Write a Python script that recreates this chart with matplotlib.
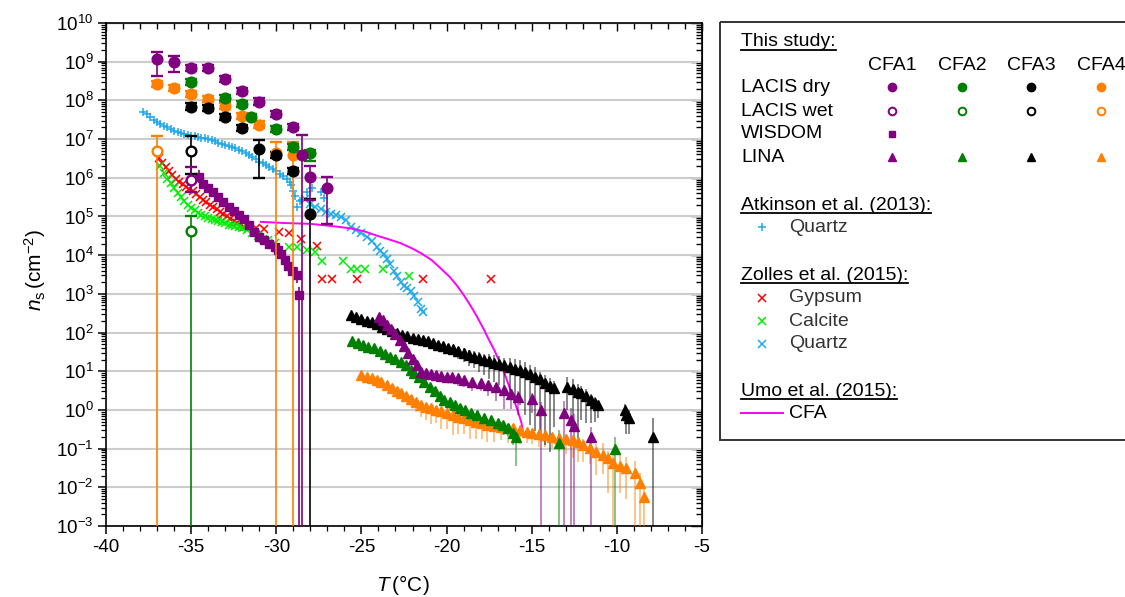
import numpy as np
import matplotlib
matplotlib.use("Agg")
import matplotlib.pyplot as plt
from matplotlib.ticker import MultipleLocator, LogLocator, NullFormatter
from matplotlib.patches import Rectangle

plt.rcParams['font.family'] = ['Liberation Sans', 'DejaVu Sans']
plt.rcParams['mathtext.fontset'] = 'custom'
plt.rcParams['mathtext.rm'] = 'Liberation Sans'
plt.rcParams['mathtext.it'] = 'Liberation Sans:italic'
plt.rcParams['axes.unicode_minus'] = False

PUR, GRN, BLK, ORG = "#800080", "#008000", "#000000", "#ff8000"
RED, LIME, SKY, MAG = "#ff0000", "#00ee00", "#1ea9ea", "#ff00ff"

# ---- LACIS dry (filled circles): T, log10 ns, err down / up (dex); 9 = to bottom
DRY1_T = [-37, -36, -35, -34, -33, -32, -31, -30, -29, -28.5, -28, -27]
DRY1_LG = [9.06, 9.00, 8.83, 8.83, 8.55, 8.25, 7.97, 7.65, 7.32, 6.59, 6.03, 5.74]
DRY1_LO = [0.43, 0.27, 0.08, 0.08, 0.08, 0.08, 0.08, 0.08, 0.08, 9, 0.60, 0.94]
DRY1_HI = [0.20, 0.15, 0.08, 0.08, 0.08, 0.08, 0.08, 0.08, 0.08, 0.51, 0.27, 0.29]
DRY2_T = [-35, -33, -32, -31.5, -30, -29, -28]
DRY2_LG = [8.48, 8.07, 7.90, 7.58, 7.25, 6.80, 6.63]
DRY2_LO = [0.08, 0.08, 0.08, 0.08, 0.08, 0.08, 0.20]
DRY2_HI = [0.08, 0.08, 0.08, 0.08, 0.08, 0.08, 0.08]
DRY3_T = [-35, -34, -33, -32, -31, -30, -29, -28]
DRY3_LG = [7.84, 7.80, 7.58, 7.28, 6.74, 6.59, 6.18, 5.06]
DRY3_LO = [0.08, 0.08, 0.08, 0.08, 0.75, 0.08, 0.08, 9]
DRY3_HI = [0.08, 0.08, 0.08, 0.08, 0.24, 0.08, 0.08, 0.40]
DRY4_T = [-37, -36, -35, -34, -33, -32, -31, -30, -29]
DRY4_LG = [8.42, 8.33, 8.17, 8.03, 7.86, 7.60, 7.36, 6.63, 6.59]
DRY4_LO = [0.08, 0.08, 0.08, 0.08, 0.08, 0.08, 0.08, 9, 9]
DRY4_HI = [0.08, 0.08, 0.08, 0.08, 0.08, 0.08, 0.12, 0.30, 0.34]

# ---- LACIS wet (open circles)
WET1_T, WET1_LG, WET1_LO, WET1_HI = [-35], [5.93], [0.30], [0.36]
WET2_T, WET2_LG, WET2_LO, WET2_HI = [-35], [4.63], [9], [0.38]
WET3_T, WET3_LG, WET3_LO, WET3_HI = [-35], [6.70], [0.60], [0.38]
WET4_T, WET4_LG, WET4_LO, WET4_HI = [-37], [6.69], [9], [0.39]

# ---- WISDOM CFA1 (squares)
WIS_T = [-34.55, -34.3, -34.0, -33.7, -33.4, -33.1, -32.8, -32.5, -32.2, -31.9,
         -31.6, -31.3, -31.0, -30.7, -30.4, -30.1, -29.9, -29.7, -29.5, -29.3,
         -29.1, -28.8, -28.67]
WIS_LG = [6.01, 5.85, 5.73, 5.62, 5.50, 5.38, 5.25, 5.14, 5.04, 4.93,
          4.78, 4.60, 4.48, 4.38, 4.29, 4.20, 4.13, 4.02, 3.88, 3.72,
          3.60, 3.49, 2.97]
WIS_LO = [0.15, 0, 0, 0, 0, 0, 0, 0, 0, 0, 0, 0, 0, 0, 0, 0, 0, 0, 0, 0, 0, 0.20, 9]
WIS_HI = [0.20, 0, 0, 0, 0, 0, 0, 0, 0, 0, 0, 0, 0, 0, 0, 0, 0, 0, 0, 0, 0, 0.20, 0.20]

# ---- LINA (triangles)
LINA1_T = [-23.96, -23.75, -23.5, -23.25, -23.0, -22.75, -22.5, -22.25, -22.0, -21.75,
           -21.5, -21.2, -20.9, -20.6, -20.35, -20.0, -19.7, -19.35, -19.0, -18.5,
           -18.0, -17.55, -17.1, -16.6, -16.2, -15.8, -15.0, -14.45, -13.1, -12.7,
           -12.5, -11.5]
LINA1_LG = [2.41, 2.32, 2.20, 2.08, 1.96, 1.82, 1.65, 1.48, 1.32, 1.15,
            0.99, 0.95, 0.92, 0.90, 0.88, 0.86, 0.84, 0.82, 0.78, 0.73,
            0.69, 0.65, 0.58, 0.52, 0.42, 0.33, 0.28, 0.00, -0.07, -0.26,
            -0.41, -0.69]
LINA1_LO = [0, 0, 0, 0, 0, 0, 0, 0, 0, 0, 0, 0, 0, 0, 0.10, 0.12, 0.15, 0.20, 0.20, 0.25,
            0.20, 0.30, 0.35, 0.50, 0.40, 0.45, 0.35, 9, 9, 9, 9, 9]
LINA1_HI = [0, 0, 0, 0, 0, 0, 0, 0, 0, 0, 0, 0, 0, 0, 0.05, 0.05, 0.08, 0.10, 0.10, 0.10,
            0.10, 0.10, 0.12, 0.10, 0.12, 0.15, 0.15, 0.20, 0.30, 0.30, 0.30, 0.25]

LINA2_T = [-25.53, -25.2, -24.9, -24.6, -24.26, -23.9, -23.6, -23.3, -23.0, -22.7,
           -22.4, -22.1, -21.9, -21.6, -21.3, -21.0, -20.7, -20.4, -20.14, -19.8,
           -19.5, -19.2, -18.9, -18.56, -18.2, -17.8, -17.4, -17.0, -16.7, -16.4,
           -16.1, -15.9, -13.4, -10.1]
LINA2_LG = [1.77, 1.72, 1.67, 1.63, 1.59, 1.52, 1.44, 1.38, 1.32, 1.24,
            1.15, 1.04, 0.95, 0.84, 0.72, 0.60, 0.48, 0.36, 0.26, 0.20,
            0.14, 0.06, 0.00, -0.09, -0.14, -0.20, -0.26, -0.35, -0.40, -0.47,
            -0.60, -0.69, -0.86, -1.00]
LINA2_LO = [0] * 19 + [0.20, 0.30, 0.20, 0.30, 0.15, 0.20, 0.20, 0.15, 0.25, 0.25, 0.20,
                       0.30, 0.77, 9, 9]
LINA2_HI = [0] * 19 + [0.10, 0.10, 0.10, 0.10, 0.10, 0.10, 0.10, 0.10, 0.10, 0.10, 0.10,
                       0.10, 0.10, 0.35, 0.30]

LINA3_T = [-25.6, -25.3, -25.0, -24.7, -24.4, -24.1, -23.8, -23.5, -23.2, -22.9,
           -22.6, -22.3, -22.0, -21.7, -21.4, -21.1, -20.8, -20.5, -20.2, -19.9,
           -19.6, -19.3, -19.0, -18.7, -18.4, -18.1, -17.8, -17.5, -17.2, -16.9,
           -16.6, -16.3, -16.0, -15.7, -15.4, -15.1, -14.8, -14.5, -14.2, -13.9,
           -13.7, -12.9, -12.6, -12.3, -12.1, -11.8, -11.5, -11.3, -11.1, -9.55,
           -9.45, -9.3, -7.9]
LINA3_LG = [2.46, 2.40, 2.35, 2.30, 2.26, 2.21, 2.15, 2.10, 2.04, 1.98,
            1.94, 1.90, 1.87, 1.84, 1.81, 1.77, 1.72, 1.68, 1.64, 1.60,
            1.57, 1.52, 1.48, 1.43, 1.38, 1.34, 1.30, 1.26, 1.22, 1.19,
            1.15, 1.11, 1.07, 1.03, 0.98, 0.92, 0.86, 0.79, 0.70, 0.62,
            0.56, 0.59, 0.54, 0.47, 0.43, 0.35, 0.26, 0.18, 0.13, 0.00,
            -0.13, -0.21, -0.69]
LINA3_LO = [0] * 19 + [0.10, 0.15, 0.20, 0.25, 0.30, 0.30, 0.35, 0.40, 0.45, 0.50, 0.55,
                       0.60, 0.70, 0.80, 0.90, 1.10, 1.30, 1.40, 1.50, 1.60, 1.70,
                       1.00, 0.60, 0.90, 1.20, 0.70, 0.70, 0.60, 0.50, 0.35, 0.30,
                       0.50, 0.40, 9]
LINA3_HI = [0] * 19 + [0.10, 0.10, 0.10, 0.12, 0.12, 0.15, 0.15, 0.15, 0.18, 0.20, 0.20,
                       0.20, 0.22, 0.25, 0.25, 0.25, 0.25, 0.25, 0.20, 0.20, 0.20,
                       0.20, 0.25, 0.25, 0.20, 0.20, 0.20, 0.15, 0.15, 0.10, 0.15,
                       0.20, 0.20, 0.48]

LINA4_T = [-25.04, -24.7, -24.4, -24.1, -23.86, -23.5, -23.2, -22.9, -22.7, -22.4,
           -22.1, -21.8, -21.5, -21.2, -20.9, -20.6, -20.35, -20.0, -19.6, -19.3,
           -18.97, -18.6, -18.3, -17.9, -17.6, -17.2, -16.8, -16.4, -16.1, -15.7,
           -15.3, -15.0, -14.6, -14.2, -13.8, -13.4, -13.0, -12.6, -12.3, -12.0,
           -11.6, -11.2, -10.8, -10.5, -10.2, -9.8, -9.45, -8.96, -8.66, -8.43]
LINA4_LG = [0.90, 0.86, 0.82, 0.78, 0.73, 0.65, 0.57, 0.50, 0.43, 0.36,
            0.28, 0.20, 0.13, 0.08, 0.04, 0.00, -0.04, -0.09, -0.14, -0.18,
            -0.21, -0.26, -0.30, -0.35, -0.39, -0.42, -0.44, -0.46, -0.47, -0.52,
            -0.56, -0.59, -0.62, -0.66, -0.69, -0.72, -0.75, -0.78, -0.84, -0.90,
            -0.99, -1.08, -1.16, -1.25, -1.36, -1.44, -1.51, -1.63, -1.89, -2.24]
LINA4_LO = [0, 0, 0, 0, 0, 0, 0, 0, 0.10, 0.15,
            0.20, 0.25, 0.30, 0.35, 0.40, 0.35, 0.45, 0.40, 0.50, 0.45,
            0.40, 0.50, 0.45, 0.40, 0.45, 0.40, 0.35, 0.40, 0.30, 0.35,
            0.30, 0.30, 0.35, 0.30, 0.30, 0.35, 0.40, 0.45, 0.50, 0.45,
            0.40, 0.60, 0.50, 0.90, 9, 0.70, 0.80, 9, 9, 9]
LINA4_HI = [0, 0, 0, 0, 0, 0, 0, 0, 0.05, 0.05,
            0.08, 0.08, 0.10, 0.10, 0.10, 0.10, 0.10, 0.10, 0.10, 0.10,
            0.10, 0.10, 0.10, 0.10, 0.10, 0.10, 0.10, 0.10, 0.10, 0.10,
            0.10, 0.10, 0.10, 0.10, 0.10, 0.10, 0.12, 0.12, 0.12, 0.15,
            0.15, 0.20, 0.30, 0.20, 0.25, 0.30, 0.30, 0.30, 0.25, 0.20]

# ---- literature
ATK_T = [-37.8, -37.6, -37.4, -37.2, -37.0, -36.8, -36.6, -36.4, -36.2, -36.0,
         -35.8, -35.6, -35.4, -35.2, -35.0, -34.8, -34.6, -34.4, -34.2, -34.0,
         -33.8, -33.6, -33.4, -33.2, -33.0, -32.8, -32.6, -32.4, -32.2, -32.0,
         -31.8, -31.6, -31.4, -31.2, -31.0, -30.8, -30.6, -30.4, -30.2, -30.0,
         -29.8, -29.6, -29.4, -29.2, -29.16, -29.0, -28.9, -28.76, -28.6, -28.47,
         -28.2, -27.9, -27.4, -27.2]
ATK_LG = [7.70, 7.64, 7.57, 7.50, 7.44, 7.39, 7.35, 7.30, 7.26, 7.22,
          7.19, 7.16, 7.13, 7.11, 7.09, 7.07, 7.06, 7.04, 7.02, 6.99,
          6.97, 6.94, 6.91, 6.88, 6.85, 6.82, 6.79, 6.76, 6.73, 6.70,
          6.65, 6.60, 6.54, 6.48, 6.42, 6.37, 6.32, 6.27, 6.22, 6.17,
          6.10, 6.04, 5.97, 5.90, 5.81, 5.65, 5.52, 5.25, 5.40, 5.43,
          5.64, 5.73, 5.64, 5.47]

GYP_T = [-36.9, -36.7, -36.5, -36.3, -36.1, -35.9, -35.7, -35.5, -35.3, -35.1,
         -34.9, -34.7, -34.5, -34.3, -34.1, -33.9, -33.7, -33.5, -33.3, -33.1,
         -32.9, -32.7, -32.5, -32.3, -32.1, -31.9, -31.2, -30.73, -29.85, -29.26,
         -28.57, -27.6, -27.3, -26.7, -25.24, -21.4, -17.4]
GYP_LG = [6.50, 6.38, 6.27, 6.17, 6.07, 5.98, 5.90, 5.83, 5.77, 5.71,
          5.65, 5.59, 5.50, 5.43, 5.37, 5.30, 5.24, 5.18, 5.12, 5.07,
          5.00, 4.93, 4.88, 4.83, 4.78, 4.74, 4.69, 4.67, 4.61, 4.58,
          4.43, 4.24, 3.38, 3.38, 3.38, 3.38, 3.38]

CAL_T = [-36.8, -36.6, -36.4, -36.2, -36.0, -35.8, -35.6, -35.4, -35.2, -35.0,
         -34.8, -34.6, -34.4, -34.2, -34.0, -33.8, -33.6, -33.4, -33.2, -33.0,
         -32.8, -32.6, -32.4, -32.2, -32.0, -31.7, -31.4, -31.1, -30.8, -30.5,
         -30.1, -29.26, -28.76, -28.2, -27.7, -27.34, -26.1, -25.6, -25.24, -24.8,
         -23.76, -22.2]
CAL_LG = [6.30, 6.12, 5.98, 5.86, 5.73, 5.60, 5.50, 5.40, 5.30, 5.22,
          5.16, 5.10, 5.05, 5.00, 4.97, 4.94, 4.91, 4.88, 4.85, 4.82,
          4.79, 4.77, 4.75, 4.73, 4.70, 4.65, 4.58, 4.50, 4.43, 4.38,
          4.31, 4.22, 4.22, 4.13, 4.09, 3.86, 3.86, 3.64, 3.64, 3.64,
          3.64, 3.46]

ZQ_T = [-28.3, -28.0, -27.7, -27.4, -27.1, -26.8, -26.5, -26.2, -25.9, -25.6,
        -25.3, -25.0, -24.7, -24.4, -24.1, -23.9, -23.7, -23.5, -23.3, -23.1,
        -22.9, -22.7, -22.5, -22.3, -22.1, -21.9, -21.7, -21.5, -21.37]
ZQ_LG = [5.45, 5.33, 5.25, 5.18, 5.12, 5.07, 5.03, 4.99, 4.90, 4.74,
         4.66, 4.58, 4.47, 4.36, 4.22, 4.12, 4.02, 3.90, 3.76, 3.60,
         3.45, 3.30, 3.20, 3.15, 3.07, 2.95, 2.80, 2.62, 2.54]

UMO_T = [-30.9, -29.5, -28.0, -26.5, -25.6, -24.8, -24.06, -23.4, -22.7, -22.1,
         -21.5, -20.9, -20.35, -19.8, -19.35, -18.95, -18.56, -18.2, -17.8, -17.5,
         -17.2, -16.9, -16.6, -16.4, -16.2, -16.0, -15.8, -15.6, -15.5]
UMO_LG = [4.86, 4.83, 4.81, 4.74, 4.69, 4.61, 4.50, 4.41, 4.31, 4.19,
          4.05, 3.88, 3.66, 3.43, 3.19, 2.94, 2.67, 2.40, 2.07, 1.80,
          1.55, 1.25, 0.95, 0.70, 0.45, 0.20, -0.05, -0.34, -0.60]


def ns(lg):
    return 10 ** np.asarray(lg, dtype=float)


def errs(lg, lo, hi):
    lg, lo, hi = (np.asarray(a, dtype=float) for a in (lg, lo, hi))
    lo = np.where(lo >= 9, 30, lo)  # bar runs off the bottom of the axis
    y = 10 ** lg
    return [y - 10 ** (lg - lo), 10 ** (lg + hi) - y]


fig = plt.figure(figsize=(11.25, 5.97), dpi=100)
ax = fig.add_axes([106 / 1125, 71 / 597, 596 / 1125, 503 / 597])
ax.set_yscale("log")
ax.set_xlim(-40, -5)
ax.set_ylim(1e-3, 1e10)
ax.yaxis.set_major_locator(LogLocator(base=10, numticks=20))
ax.yaxis.set_minor_locator(LogLocator(base=10, subs=np.arange(2, 10), numticks=200))
ax.yaxis.set_minor_formatter(NullFormatter())
ax.xaxis.set_major_locator(MultipleLocator(5))
ax.xaxis.set_minor_locator(MultipleLocator(1))
ax.grid(axis="y", which="major", color="#cccccc", lw=1.5, zorder=0)
ax.set_axisbelow(True)
for s in ax.spines.values():
    s.set_linewidth(1.2)
ax.tick_params(which="major", direction="out", length=6, width=1.1, labelsize=13.5, pad=3)
ax.tick_params(which="minor", direction="out", length=3.5, width=0.9)

# mirrored inward ticks on top and right
top = ax.secondary_xaxis("top")
top.xaxis.set_major_locator(MultipleLocator(5))
top.xaxis.set_minor_locator(MultipleLocator(1))
top.tick_params(which="both", direction="in", labeltop=False, width=1.0)
top.tick_params(which="major", length=6)
top.tick_params(which="minor", length=4)
right = ax.secondary_yaxis("right")
right.yaxis.set_major_locator(LogLocator(base=10, numticks=20))
right.yaxis.set_minor_locator(LogLocator(base=10, subs=np.arange(2, 10), numticks=200))
right.tick_params(which="both", direction="in", labelright=False, width=1.0)
right.tick_params(which="major", length=8)
right.tick_params(which="minor", length=4)

# literature
ax.plot(ATK_T, ns(ATK_LG), ls="none", marker="+", ms=6, mew=1.1, color=SKY, zorder=3)
ax.plot(GYP_T, ns(GYP_LG), ls="none", marker="x", ms=5.5, mew=1.1, color=RED, zorder=3)
ax.plot(CAL_T, ns(CAL_LG), ls="none", marker="x", ms=5.5, mew=1.1, color=LIME, zorder=3)
ax.plot(ZQ_T, ns(ZQ_LG), ls="none", marker="x", ms=5.5, mew=1.1, color=SKY, zorder=3)
ax.plot(UMO_T, ns(UMO_LG), color=MAG, lw=1.4, zorder=3)

# WISDOM
ax.errorbar(WIS_T, ns(WIS_LG), yerr=errs(WIS_LG, WIS_LO, WIS_HI), fmt="s", ms=5.5,
            color=PUR, ecolor=PUR, elinewidth=1.2, capsize=0, zorder=4)

# LINA
lina = [(LINA4_T, LINA4_LG, LINA4_LO, LINA4_HI, ORG),
        (LINA2_T, LINA2_LG, LINA2_LO, LINA2_HI, GRN),
        (LINA3_T, LINA3_LG, LINA3_LO, LINA3_HI, BLK),
        (LINA1_T, LINA1_LG, LINA1_LO, LINA1_HI, PUR)]
for T, lg, lo, hi, col in lina:
    eb = ax.errorbar(T, ns(lg), yerr=errs(lg, lo, hi), fmt="^", ms=6.5, color=col,
                     mec=col, ecolor=col, elinewidth=1.1, capsize=0, zorder=4)
    for c in eb[2]:
        c.set_alpha(0.6)

# LACIS dry / wet
lacis = [(DRY4_T, DRY4_LG, DRY4_LO, DRY4_HI, ORG, True),
         (DRY3_T, DRY3_LG, DRY3_LO, DRY3_HI, BLK, True),
         (DRY2_T, DRY2_LG, DRY2_LO, DRY2_HI, GRN, True),
         (DRY1_T, DRY1_LG, DRY1_LO, DRY1_HI, PUR, True),
         (WET4_T, WET4_LG, WET4_LO, WET4_HI, ORG, False),
         (WET3_T, WET3_LG, WET3_LO, WET3_HI, BLK, False),
         (WET2_T, WET2_LG, WET2_LO, WET2_HI, GRN, False),
         (WET1_T, WET1_LG, WET1_LO, WET1_HI, PUR, False)]
for T, lg, lo, hi, col, filled in lacis:
    ax.errorbar(T, ns(lg), yerr=errs(lg, lo, hi), fmt="o", ms=7,
                mfc=col if filled else "white", mec=col, mew=1.7, ecolor=col,
                elinewidth=1.2, capsize=4, capthick=1.2, zorder=5)

fig.text(35 / 1125, 1 - 270 / 597, r"$n_{\rm s}\,(\rm cm^{-2})$", rotation=90,
         ha="center", va="center", fontsize=15)
fig.text(403 / 1125, 1 - 585 / 597, r"$T\,(\rm°C)$", ha="center", va="center", fontsize=15)

# ---- legend box (pixel coordinates)
lax = fig.add_axes([0, 0, 1, 1], zorder=10)
lax.set_xlim(0, 1125)
lax.set_ylim(597, 0)
lax.axis("off")
lax.add_patch(Rectangle((720, 22), 430, 418, fill=False, ec="#333333", lw=1.4, clip_on=False))

FS = 14
fig.canvas.draw()
rend = fig.canvas.get_renderer()


def header(x, y, s):
    t = lax.text(x, y, s, fontsize=FS, ha="left", va="center")
    bb = t.get_window_extent(rend).transformed(lax.transData.inverted())
    yb = max(bb.y0, bb.y1) - 1
    lax.plot([bb.x0, bb.x1], [yb, yb], color="black", lw=1.3)


header(741, 42, "This study:")
for x, s in zip([892, 962, 1031, 1101], ["CFA1", "CFA2", "CFA3", "CFA4"]):
    lax.text(x, 65, s, fontsize=FS, ha="center", va="center")
rows = [("LACIS dry", 88), ("LACIS wet", 111), ("WISDOM", 134), ("LINA", 158)]
for s, y in rows:
    lax.text(741, y, s, fontsize=FS, ha="left", va="center")
for x, col in zip([892, 962, 1031, 1101], [PUR, GRN, BLK, ORG]):
    lax.plot([x], [87], marker="o", ms=6, color=col)
    lax.plot([x], [111], marker="o", ms=5.5, mfc="white", mec=col, mew=1.4)
    lax.plot([x], [157], marker="^", ms=6, color=col)
lax.plot([892], [134], marker="s", ms=5, color=PUR)

header(741, 205, "Atkinson et al. (2013):")
lax.plot([762], [227], marker="+", ms=6, mew=1.1, color=SKY)
lax.text(789, 228, "Quartz", fontsize=FS, color="#333333", ha="left", va="center")

header(741, 275, "Zolles et al. (2015):")
for y, col, s in [(298, RED, "Gypsum"), (321, LIME, "Calcite"), (344, SKY, "Quartz")]:
    lax.plot([762], [y], marker="x", ms=5.5, mew=1.1, color=col)
    lax.text(789, y, s, fontsize=FS, color="#333333", ha="left", va="center")

header(741, 391, "Umo et al. (2015):")
lax.plot([741, 783], [413, 413], color=MAG, lw=1.4)
lax.text(789, 413, "CFA", fontsize=FS, ha="left", va="center")

fig.savefig("out.png", dpi=100, facecolor="white")
